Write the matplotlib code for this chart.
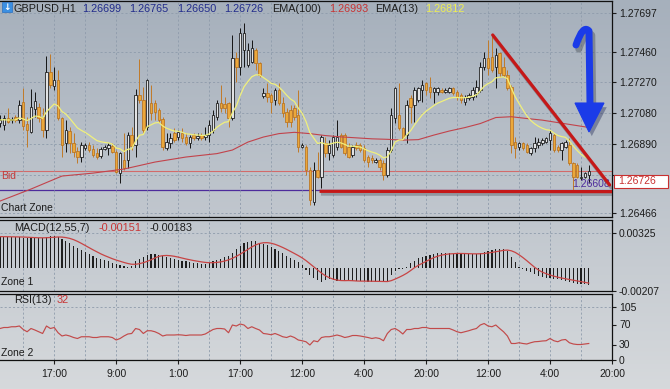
import numpy as np
import pandas as pd
import matplotlib
matplotlib.use("Agg")
import matplotlib.pyplot as plt
import matplotlib.patheffects as pe
from matplotlib.patches import Rectangle, Polygon, PathPatch
from matplotlib.path import Path
from matplotlib.transforms import Affine2D

plt.rcParams["font.family"] = ["Liberation Sans", "DejaVu Sans"]

W, H = 670, 389

# ---- GBPUSD H1 candles ----
opens = [
    1.27018, 1.27008, 1.27049, 1.27039, 1.27059, 1.27039, 1.27151, 1.27014, 1.26967, 1.27104,
    1.27117, 1.27059, 1.26977, 1.27336, 1.27248, 1.27285, 1.27049, 1.26899, 1.26973, 1.26899,
    1.26850, 1.26813, 1.26864, 1.26885, 1.26858, 1.26838, 1.26819, 1.26862, 1.26866, 1.26879,
    1.26844, 1.26714, 1.26793, 1.26793, 1.26946, 1.26885, 1.27192, 1.27162, 1.26998, 1.27141,
    1.27141, 1.27100, 1.27043, 1.26864, 1.26895, 1.26957, 1.26936, 1.26957, 1.26936, 1.26895,
    1.26946, 1.26926, 1.26946, 1.26932, 1.26946, 1.26977, 1.27059, 1.27141, 1.27137, 1.27141,
    1.27049, 1.27418, 1.27367, 1.27469, 1.27377, 1.27398, 1.27469, 1.27387, 1.27186, 1.27203,
    1.27192, 1.27162, 1.27223, 1.27141, 1.27090, 1.27100, 1.27110, 1.27069, 1.26874, 1.26874,
    1.26731, 1.26536, 1.26731, 1.26690, 1.26895, 1.26833, 1.26823, 1.26874, 1.26946, 1.26946,
    1.26874, 1.26823, 1.26885, 1.26885, 1.26864, 1.26813, 1.26803, 1.26782, 1.26793, 1.26772,
    1.26700, 1.26854, 1.27049, 1.27069, 1.26987, 1.26946, 1.27172, 1.27131, 1.27162, 1.27223,
    1.27264, 1.27244, 1.27213, 1.27213, 1.27223, 1.27213, 1.27213, 1.27233, 1.27213, 1.27192,
    1.27151, 1.27172, 1.27182, 1.27203, 1.27223, 1.27367, 1.27418, 1.27428, 1.27367, 1.27449,
    1.27367, 1.27316, 1.27244, 1.26905, 1.26874, 1.26895, 1.26885, 1.26833, 1.26864, 1.26885,
    1.26895, 1.26905, 1.26916, 1.26946, 1.26874, 1.26854, 1.26874, 1.26885, 1.26772, 1.26762,
    1.26680, 1.26690, 1.26699,
]
highs = [
    1.27069, 1.27069, 1.27110, 1.27059, 1.27069, 1.27162, 1.27233, 1.27059, 1.27227, 1.27213,
    1.27141, 1.27110, 1.27432, 1.27443, 1.27367, 1.27346, 1.27059, 1.27039, 1.26998, 1.26957,
    1.26874, 1.26905, 1.26895, 1.26905, 1.26885, 1.26864, 1.26874, 1.26885, 1.26895, 1.26895,
    1.26854, 1.26844, 1.26957, 1.26967, 1.26998, 1.27227, 1.27412, 1.27244, 1.27289, 1.27254,
    1.27162, 1.27110, 1.27059, 1.26957, 1.26957, 1.26987, 1.26977, 1.26987, 1.26957, 1.26946,
    1.26957, 1.26957, 1.26957, 1.26998, 1.27039, 1.27100, 1.27162, 1.27254, 1.27182, 1.27151,
    1.27562, 1.27459, 1.27603, 1.27633, 1.27510, 1.27531, 1.27480, 1.27398, 1.27233, 1.27264,
    1.27203, 1.27233, 1.27264, 1.27182, 1.27110, 1.27131, 1.27131, 1.27223, 1.26895, 1.26885,
    1.26751, 1.26782, 1.26844, 1.26946, 1.26936, 1.26916, 1.26946, 1.27039, 1.26957, 1.26957,
    1.26895, 1.26885, 1.26905, 1.26895, 1.26885, 1.26823, 1.26823, 1.26803, 1.26803, 1.26793,
    1.26874, 1.27110, 1.27244, 1.27264, 1.26998, 1.27162, 1.27192, 1.27244, 1.27244, 1.27285,
    1.27274, 1.27305, 1.27244, 1.27244, 1.27233, 1.27233, 1.27244, 1.27244, 1.27223, 1.27203,
    1.27192, 1.27203, 1.27244, 1.27285, 1.27398, 1.27459, 1.27531, 1.27562, 1.27480, 1.27459,
    1.27428, 1.27346, 1.27254, 1.26936, 1.26905, 1.26905, 1.26895, 1.26874, 1.26936, 1.26926,
    1.26926, 1.26936, 1.26977, 1.26957, 1.26885, 1.26905, 1.26916, 1.26926, 1.26782, 1.26772,
    1.26751, 1.26721, 1.26765,
]
lows = [
    1.26998, 1.26977, 1.27018, 1.27022, 1.27028, 1.27018, 1.26977, 1.26874, 1.26957, 1.27059,
    1.27028, 1.26936, 1.26926, 1.27233, 1.27223, 1.27039, 1.26813, 1.26844, 1.26833, 1.26813,
    1.26772, 1.26782, 1.26854, 1.26844, 1.26813, 1.26797, 1.26803, 1.26854, 1.26823, 1.26833,
    1.26710, 1.26649, 1.26731, 1.26741, 1.26854, 1.26809, 1.27141, 1.26957, 1.26977, 1.27039,
    1.27039, 1.27018, 1.26854, 1.26854, 1.26864, 1.26905, 1.26916, 1.26905, 1.26885, 1.26864,
    1.26916, 1.26916, 1.26916, 1.26916, 1.26905, 1.26957, 1.27039, 1.27090, 1.27080, 1.26998,
    1.27039, 1.27274, 1.27316, 1.27367, 1.27367, 1.27387, 1.27346, 1.27305, 1.27172, 1.27151,
    1.27080, 1.27131, 1.27131, 1.27059, 1.26998, 1.26998, 1.27039, 1.26844, 1.26864, 1.26700,
    1.26516, 1.26516, 1.26680, 1.26618, 1.26813, 1.26793, 1.26813, 1.26854, 1.26864, 1.26823,
    1.26803, 1.26813, 1.26854, 1.26844, 1.26782, 1.26751, 1.26772, 1.26772, 1.26731, 1.26669,
    1.26690, 1.26844, 1.27018, 1.26977, 1.26916, 1.26895, 1.27018, 1.27028, 1.27151, 1.27151,
    1.27192, 1.27172, 1.27141, 1.27192, 1.27203, 1.27203, 1.27203, 1.27192, 1.27162, 1.27141,
    1.27131, 1.27162, 1.27162, 1.27182, 1.27213, 1.27346, 1.27316, 1.27336, 1.27233, 1.27305,
    1.27305, 1.27223, 1.26833, 1.26803, 1.26854, 1.26854, 1.26833, 1.26823, 1.26844, 1.26864,
    1.26885, 1.26895, 1.26854, 1.26844, 1.26844, 1.26793, 1.26864, 1.26762, 1.26608, 1.26680,
    1.26669, 1.26680, 1.26650,
]
closes = [
    1.27039, 1.27049, 1.27028, 1.27043, 1.27039, 1.27131, 1.27002, 1.26977, 1.27117, 1.27158,
    1.27049, 1.26977, 1.27336, 1.27254, 1.27285, 1.27049, 1.26885, 1.26977, 1.26895, 1.26844,
    1.26813, 1.26885, 1.26883, 1.26854, 1.26823, 1.26813, 1.26862, 1.26874, 1.26883, 1.26844,
    1.26721, 1.26833, 1.26741, 1.26946, 1.26879, 1.27192, 1.27162, 1.26977, 1.27285, 1.27080,
    1.27090, 1.27039, 1.26874, 1.26905, 1.26926, 1.26916, 1.26967, 1.26926, 1.26895, 1.26936,
    1.26926, 1.26942, 1.26926, 1.26946, 1.27008, 1.27069, 1.27141, 1.27110, 1.27110, 1.27049,
    1.27418, 1.27367, 1.27572, 1.27572, 1.27469, 1.27480, 1.27387, 1.27316, 1.27203, 1.27182,
    1.27151, 1.27223, 1.27141, 1.27080, 1.27028, 1.27028, 1.27059, 1.26874, 1.26885, 1.26731,
    1.26546, 1.26731, 1.26690, 1.26936, 1.26833, 1.26885, 1.26936, 1.26936, 1.26874, 1.26833,
    1.26813, 1.26874, 1.26864, 1.26854, 1.26793, 1.26782, 1.26793, 1.26793, 1.26751, 1.26700,
    1.26854, 1.27069, 1.27233, 1.26987, 1.26926, 1.27131, 1.27121, 1.27223, 1.27233, 1.27254,
    1.27223, 1.27213, 1.27233, 1.27233, 1.27213, 1.27223, 1.27233, 1.27203, 1.27182, 1.27162,
    1.27182, 1.27192, 1.27223, 1.27244, 1.27367, 1.27418, 1.27357, 1.27346, 1.27439, 1.27326,
    1.27316, 1.27233, 1.26885, 1.26864, 1.26895, 1.26864, 1.26844, 1.26864, 1.26895, 1.26905,
    1.26916, 1.26926, 1.26957, 1.26854, 1.26854, 1.26895, 1.26905, 1.26772, 1.26690, 1.26690,
    1.26690, 1.26710, 1.26726,
]

# EMA(100) every few bars
ema100_bars = [0, 8, 16, 24, 32, 40, 48, 56, 60, 64, 68, 72, 76, 80, 84, 88,
               92, 96, 100, 104, 108, 112, 116, 120, 124, 128, 132, 136, 140, 144, 148, 152]
ema100_vals = [1.26540, 1.26614, 1.26694, 1.26712, 1.26737, 1.26780, 1.26811, 1.26832,
               1.26854, 1.26903, 1.26934, 1.26955, 1.26963, 1.26955, 1.26943, 1.26935,
               1.26929, 1.26923, 1.26920, 1.26915, 1.26918, 1.26946, 1.26971, 1.26992,
               1.27017, 1.27054, 1.27059, 1.27048, 1.27038, 1.27023, 1.27008, 1.26993]
ema13_label = 1.26812

# MACD(12,55,7) main line (histogram)
macd = [
    .00294, .00294, .00291, .00291, .00288, .00288, .00285, .00282, .00279, .00279,
    .00282, .00285, .00294, .00300, .00300, .00294, .00273, .00251, .00232, .00211,
    .00189, .00171, .00152, .00133, .00115, .00099, .00084, .00075, .00066, .00053,
    .00044, .00035, .00025, .00016, .00025, .00066, .00090, .00109, .00121, .00130,
    .00133, .00127, .00112, .00103, .00093, .00084, .00078, .00072, .00066, .00059,
    .00053, .00047, .00044, .00044, .00053, .00066, .00078, .00087, .00103, .00118,
    .00146, .00177, .00208, .00232, .00248, .00257, .00251, .00239, .00226, .00214,
    .00195, .00177, .00161, .00140, .00118, .00096, .00078, .00059, .00028, -.00015,
    -.00058, -.00089, -.00111, -.00123, -.00111, -.00099, -.00108, -.00120, -.00120, -.00117,
    -.00117, -.00120, -.00117, -.00117, -.00120, -.00123, -.00123, -.00126, -.00126, -.00126,
    -.00114, -.00062, -.00021, -.00009, -.00003, .00016, .00047, .00072, .00093, .00109,
    .00118, .00124, .00133, .00140, .00140, .00140, .00140, .00137, .00137, .00133,
    .00133, .00130, .00133, .00137, .00143, .00155, .00164, .00171, .00177, .00180,
    .00177, .00161, .00109, .00062, .00016, -.00006, -.00021, -.00036, -.00052, -.00067,
    -.00080, -.00086, -.00092, -.00095, -.00101, -.00108, -.00114, -.00123, -.00132, -.00141,
    -.00146, -.00149, -.00151,
]
signal_label = -0.00183

# RSI(13)
rsi = [
    62, 64, 64, 65.5, 65.5, 67, 60, 55.5, 62, 59,
    55.5, 52, 67, 62, 64, 53.5, 47, 49, 47, 44,
    42, 45.5, 45.5, 45.5, 44, 44, 45.5, 45.5, 45.5, 44,
    39, 42, 47, 51, 52, 62, 60, 52, 57.5, 57.5,
    55.5, 52, 47, 49, 49, 49, 49.5, 49, 48, 49,
    49, 49, 49, 51, 55.5, 60, 62, 62, 61, 53.5,
    69, 67, 71, 69, 62, 65.5, 62, 59, 52, 51,
    49.5, 52, 49, 45.5, 44, 47, 44, 39, 37.5, 35.5,
    29, 37.5, 35.5, 44, 45.5, 45.5, 47, 49, 47, 44,
    45.5, 48, 48, 47, 45.5, 44, 42, 43.5, 42, 37.5,
    52, 60, 62, 57.5, 51, 60, 60, 62, 62, 64,
    64, 62, 62, 62, 62, 62, 62, 59, 55.5, 53.5,
    55.5, 57.5, 60, 62, 69, 72, 67, 65.5, 69, 62,
    55.5, 47, 32, 32, 33.5, 32, 31, 33.5, 35.5, 36,
    37, 37.5, 42, 37.5, 35.5, 39, 40, 33.5, 31, 30,
    30, 31, 32,
]

time_labels = ["17:00", "9:00", "1:00", "17:00", "12:00", "4:00", "20:00", "12:00", "4:00", "20:00"]
price_ticks = [1.27697, 1.27460, 1.27270, 1.27080, 1.26890, 1.26700, 1.26466]
macd_ticks = [0.00325, -0.00207]
rsi_ticks = [105, 70, 30, 0]

bid = 1.26726
low_line = 1.26608
trend_down = ([127.2, 157.4], [1.27562, 1.26639])
trend_flat = ([82.5, 158.0], [1.26600, 1.26598])

o = np.array(opens)
h = np.array(highs)
l = np.array(lows)
c = np.array(closes)
x = np.arange(len(c))
ema13 = pd.Series(c).ewm(span=13, adjust=False).mean()
signal = pd.Series(macd).rolling(7, min_periods=1).mean()

fig = plt.figure(figsize=(W / 100, H / 100), dpi=100)
px = Affine2D().scale(1 / W, -1 / H).translate(0, 1) + fig.transFigure

# background gradient
bg = fig.add_axes([0, 0, 1, 1], zorder=-5)
top_col = np.array([166, 176, 188]) / 255
bot_col = np.array([214, 217, 220]) / 255
t = np.linspace(0, 1, 256)[:, None, None]
bg.imshow(top_col + (bot_col - top_col) * t, aspect="auto", extent=[0, 1, 0, 1])
bg.axis("off")

GRID = "#8e9bab"
DARK = "#1c1c1c"
gridkw = dict(color=GRID, lw=0.6, ls=(0, (2.5, 2.5)))


def panel(top, bottom):
    a = fig.add_axes([0, 1 - bottom / H, 612 / W, (bottom - top) / H])
    a.set_facecolor("none")
    a.set_xlim(0, 158)
    a.set_xticks(np.arange(14, 159, 16))
    a.set_xticks(np.arange(6, 159, 16), minor=True)
    a.grid(True, which="both", axis="x", **gridkw)
    a.yaxis.tick_right()
    a.tick_params(axis="y", direction="out", length=3, width=0.8, pad=2,
                  labelsize=7.5, colors=DARK)
    a.tick_params(axis="x", which="both", length=0, labelbottom=False)
    a.spines["left"].set_visible(False)
    for s in ("top", "right", "bottom"):
        a.spines[s].set_color("#101010")
        a.spines[s].set_linewidth(0.9)
    return a


ax = panel(1, 217)
ax2 = panel(220, 291)
ax3 = panel(294, 359.5)

# ---- main chart ----
ax.set_ylim(1.26442, 1.27771)
ax.set_yticks(price_ticks)
# the 1.26700 label sits under the bid price box
ax.set_yticklabels(["" if v == 1.26700 else f"{v:.5f}" for v in price_ticks])
ax.grid(True, axis="y", **gridkw)

bull = c >= o
ax.vlines(x[bull], l[bull], h[bull], color="#141414", lw=0.7, zorder=2)
ax.vlines(x[~bull], l[~bull], h[~bull], color="#c17a28", lw=0.7, zorder=2)
ax.bar(x[bull], (c - o)[bull], bottom=o[bull], width=0.64, color="#e2e3e4",
       edgecolor="#141414", lw=0.55, zorder=3)
ax.bar(x[~bull], (o - c)[~bull], bottom=c[~bull], width=0.64, color="#eba83a",
       edgecolor="#b87220", lw=0.55, zorder=3)

ax.plot(ema100_bars, ema100_vals, color="#c2434b", lw=0.8, zorder=4)
ax.plot(x, ema13, color="#f0f07c", lw=0.9, zorder=4)
ax.axhline(bid, color="#d26a6a", lw=0.8, zorder=1.5)
ax.axhline(low_line, color="#4d2c9c", lw=0.9, zorder=1.5)

red_fx = [pe.SimpleLineShadow(offset=(1, -2), shadow_color="#404650", alpha=0.35), pe.Normal()]
ax.plot(*trend_down, color="#c51818", lw=2.3, solid_capstyle="round", zorder=6, path_effects=red_fx)
ax.plot(*trend_flat, color="#c51818", lw=2.3, solid_capstyle="butt", zorder=6, path_effects=red_fx)

ax.text(157.4, low_line + 0.00005, f"{low_line:.5f}", ha="right", va="bottom",
        color="#4d2c9c", fontsize=7.5, zorder=5)
ax.text(0.3, bid - 0.00004, "Bid", ha="left", va="top", color="#c43a3a", fontsize=7.5)
ax.text(0.002, 0.02, "Chart Zone", transform=ax.transAxes, ha="left", va="bottom",
        color=DARK, fontsize=7.5)

# bid price box on the axis
fig.add_artist(Rectangle((614, 175), 54, 13, transform=px, facecolor="white",
                         edgecolor="#c83030", lw=0.8, zorder=20))
fig.text(618, 181.5, f"{bid:.5f}", transform=px, va="center", ha="left",
         color="#c83030", fontsize=7.5, zorder=21)

# ---- title line ----
fig.add_artist(Rectangle((2, 2), 10, 10, transform=px, facecolor="#3b8fe2",
                         edgecolor="#2a6fc0", lw=0.5, zorder=20))
fig.text(7, 7.5, "↓", transform=px, ha="center", va="center", color="white",
         fontsize=6.5, fontweight="bold", family="DejaVu Sans", zorder=21)
NAVY = "#222c8c"
title_parts = [
    ("GBPUSD,H1", 14, DARK),
    (f"{opens[-1]:.5f}", 82, NAVY),
    (f"{highs[-1]:.5f}", 129, NAVY),
    (f"{lows[-1]:.5f}", 177, NAVY),
    (f"{closes[-1]:.5f}", 224, NAVY),
    ("EMA(100)", 272, DARK),
    (f"{ema100_vals[-1]:.5f}", 329, "#c83434"),
    ("EMA(13)", 375, DARK),
    (f"{ema13_label:.5f}", 425, "#eeee52"),
]
for s, xp, col in title_parts:
    fig.text(xp, 8.5, s, transform=px, ha="left", va="center", color=col, fontsize=7.8)

# ---- MACD ----
ax2.set_ylim(-0.0021, 0.00448)
ax2.set_yticks(macd_ticks)
ax2.set_yticklabels([f"{v:.5f}" for v in macd_ticks])
ax2.axhline(macd_ticks[0], zorder=0, **gridkw)
ax2.bar(x, macd, width=0.3, color="#1e1e1e", zorder=3)
ax2.plot(x, signal, color="#c84444", lw=0.9, zorder=4)
for s, xp, col in [("MACD(12,55,7)", 14, DARK), (f"{macd[-1]:.5f}", 99, "#c83434"),
                   (f"{signal_label:.5f}", 150, DARK)]:
    fig.text(xp, 228, s, transform=px, ha="left", va="center", color=col, fontsize=7.8)
ax2.text(0.002, 0.05, "Zone 1", transform=ax2.transAxes, ha="left", va="bottom",
         color=DARK, fontsize=7.5)

# ---- RSI ----
ax3.set_ylim(0, 131)
ax3.set_yticks(rsi_ticks)
ax3.set_yticklabels([str(v) for v in rsi_ticks])
ax3.axhline(rsi_ticks[0], zorder=0, **gridkw)
ax3.plot(x, rsi, color="#c24a4a", lw=0.85, zorder=4)
ax3.set_xticklabels(time_labels)
ax3.tick_params(axis="x", which="major", length=3, width=0.8, pad=4, labelsize=7.5,
                labelbottom=True, colors=DARK)
for s, xp, col in [("RSI(13)", 14, DARK), (f"{rsi[-1]:.0f}", 57, "#c83434")]:
    fig.text(xp, 300, s, transform=px, ha="left", va="center", color=col, fontsize=7.8)
ax3.text(0.002, 0.03, "Zone 2", transform=ax3.transAxes, ha="left", va="bottom",
         color=DARK, fontsize=7.5)

# ---- blue hand-drawn arrow ----
BLUE = "#1b3be8"
blue_fx = [pe.SimpleLineShadow(offset=(2, -3), shadow_color="#30343c", alpha=0.35), pe.Normal()]
stem = Path([(576, 45), (583, 24), (589, 31), (590, 104)],
            [Path.MOVETO, Path.CURVE3, Path.CURVE3, Path.LINETO])
fig.add_artist(PathPatch(stem, transform=px, fill=False, edgecolor=BLUE, lw=5,
                         capstyle="round", joinstyle="round", zorder=15, path_effects=blue_fx))
fig.add_artist(Polygon([(575, 103), (604, 103), (589, 132)], closed=True, transform=px,
                       facecolor=BLUE, edgecolor=BLUE, lw=0.8, zorder=15,
                       path_effects=[pe.SimplePatchShadow(offset=(2, -3), alpha=0.35), pe.Normal()]))

fig.savefig("out.png", dpi=100)
